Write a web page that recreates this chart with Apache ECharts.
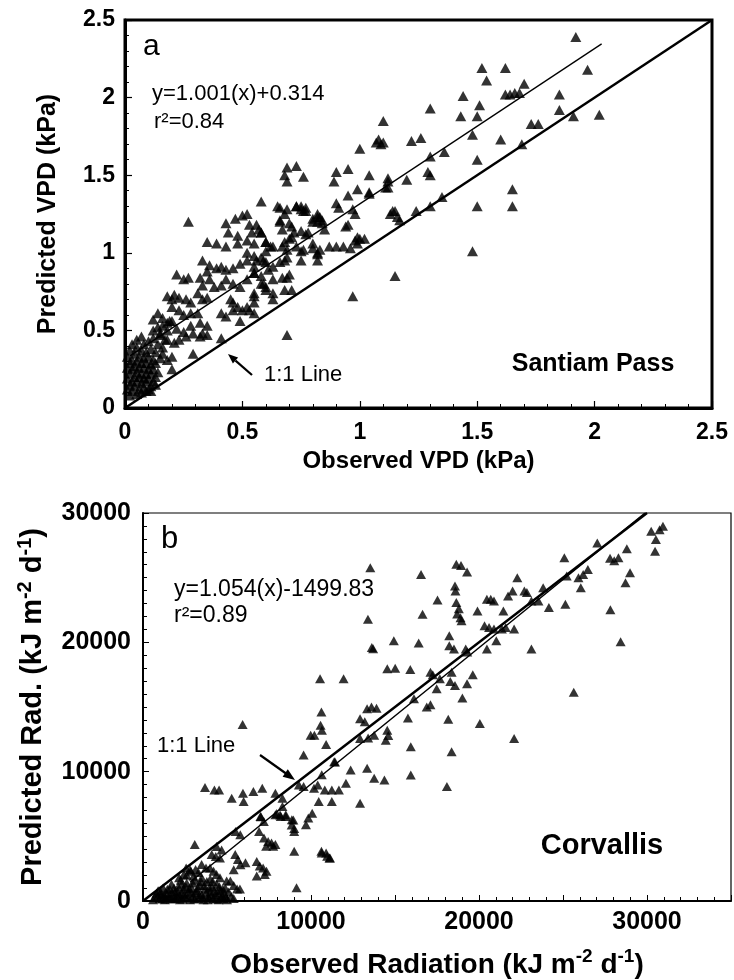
<!DOCTYPE html>
<html>
<head>
<meta charset="utf-8">
<script src="https://cdn.jsdelivr.net/npm/echarts@6/dist/echarts.min.js"></script>
<style>
  html, body { margin: 0; padding: 0; background: #fff; }
  #chart { width: 734px; height: 980px; }
</style>
</head>
<body>
<div id="chart"></div>
<script>
var FONT = "'Liberation Sans', Arial, sans-serif";

// panel a: Santiam Pass, observed vs predicted VPD (kPa)
var vpdTicks = [0, 0.5, 1, 1.5, 2, 2.5];
var santiamPts = [
  [1.92,2.39],[1.52,2.19],[1.62,2.19],[1.54,2.11],[1.70,2.09],[1.97,2.18],
  [1.44,2.01],[1.62,2.02],[1.64,2.02],[1.66,2.03],[1.68,2.03],[1.85,2.02],
  [1.30,1.93],[1.51,1.95],[1.43,1.88],[1.50,1.88],[1.85,1.92],[1.91,1.88],[2.02,1.89],
  [1.10,1.85],[1.73,1.83],[1.76,1.83],[1.48,1.76],[1.60,1.73],[1.69,1.70],
  [1.07,1.71],[1.08,1.73],[1.09,1.70],[1.10,1.71],[1.22,1.72],[1.26,1.74],
  [1.00,1.67],[1.36,1.65],[1.30,1.62],[1.50,1.60],
  [0.69,1.55],[0.68,1.50],[0.69,1.46],[0.73,1.56],[0.76,1.49],
  [0.90,1.52],[0.89,1.46],[0.95,1.54],[1.04,1.50],[1.12,1.48],[1.12,1.46],[1.11,1.42],
  [1.29,1.52],[1.30,1.50],[1.20,1.47],[0.99,1.41],[1.04,1.39],[0.95,1.37],
  [1.35,1.36],[1.30,1.30],[1.24,1.27],[1.65,1.41],[1.65,1.30],[1.50,1.30],
  [0.58,1.33],[0.73,1.30],[0.75,1.30],[0.77,1.29],[0.66,1.29],
  [0.83,1.23],[0.84,1.21],[0.82,1.25],[0.90,1.32],[0.91,1.29],[0.97,1.28],[0.98,1.25],[0.95,1.18],
  [1.04,1.38],[1.12,1.42],[0.94,1.17],
  [1.13,1.25],[1.15,1.27],[1.16,1.23],[1.17,1.21],[1.14,1.27],
  [0.98,1.08],[0.99,1.10],[1.00,1.09],[1.02,1.09],[0.99,1.06],
  [0.87,1.04],[0.90,1.04],[0.93,1.04],[0.96,1.03],
  [1.48,1.01],[1.15,0.85],[0.97,0.72],[0.69,0.47],[0.27,1.20],
  [0.65,1.30],[0.75,1.28],[0.77,1.27],[0.80,1.22],[0.82,1.20],
  [0.52,1.25],[0.50,1.24],[0.47,1.22],[0.43,1.19],[0.53,1.18],[0.57,1.15],[0.54,1.13],[0.58,1.13],
  [0.66,1.21],[0.67,1.15],[0.71,1.17],[0.75,1.14],[0.77,1.12],
  [0.44,1.13],[0.48,1.11],[0.52,1.08],[0.35,1.07],[0.39,1.06],[0.43,1.04],[0.48,1.06],[0.52,1.00],
  [0.55,1.06],[0.60,1.07],[0.62,1.04],[0.67,1.04],[0.70,1.09],[0.73,1.04],[0.76,1.02],[0.80,1.06],
  [0.83,1.02],[0.82,0.99],
  [0.33,0.95],[0.36,0.92],[0.39,0.90],[0.41,0.91],[0.43,0.89],[0.46,0.90],[0.49,0.93],[0.52,0.95],
  [0.55,0.98],[0.58,0.97],[0.60,0.94],[0.63,0.91],[0.66,0.94],[0.69,0.97],[0.70,0.86],[0.67,0.84],
  [0.63,0.83],[0.60,0.78],[0.58,0.80],[0.55,0.87],[0.52,0.83],[0.49,0.78],[0.46,0.80],[0.43,0.83],
  [0.41,0.79],[0.38,0.78],
  [0.22,0.86],[0.25,0.83],[0.27,0.84],[0.32,0.84],[0.35,0.88],[0.36,0.83],[0.33,0.79],[0.31,0.74],
  [0.33,0.70],[0.35,0.71],[0.18,0.72],[0.20,0.70],[0.21,0.73],[0.23,0.71],[0.26,0.70],[0.28,0.68],
  [0.20,0.65],[0.23,0.63],[0.25,0.60],[0.28,0.61],[0.31,0.61],[0.14,0.61],[0.12,0.57],[0.16,0.53],
  [0.18,0.55],[0.20,0.56],[0.22,0.51],[0.25,0.49],[0.28,0.53],[0.32,0.55],[0.35,0.53],[0.33,0.48],
  [0.45,0.70],[0.46,0.68],[0.48,0.65],[0.50,0.63],[0.52,0.65],[0.55,0.72],[0.53,0.63],[0.55,0.61],
  [0.41,0.61],[0.43,0.59],[0.46,0.63],[0.49,0.56],
  [0.12,0.50],[0.15,0.48],[0.18,0.44],[0.21,0.42],[0.23,0.44],[0.26,0.46],[0.29,0.48],[0.32,0.46],
  [0.35,0.47],[0.41,0.45],[0.29,0.35],[0.16,0.35],[0.18,0.31],[0.20,0.33],[0.20,0.25],
  [0.56,1.18],[0.58,1.13],[0.60,1.07],[0.63,1.04],[0.60,1.01],[0.59,0.95],[0.61,0.89],
  [0.68,1.07],[0.69,1.02],[0.68,0.95],[0.75,1.01],[0.75,0.95],[0.80,1.03],[0.82,1.00],[0.82,0.95],
  [0.56,0.95],[0.55,0.91],[0.55,0.87],[0.58,0.85],[0.59,0.80],[0.60,0.76],[0.63,0.74],[0.63,0.70],
  [0.55,0.74],[0.55,0.68],[0.69,0.84],[0.68,0.76],[0.71,0.76],
  [0.66,1.20],[0.70,1.19],[0.72,1.13],[0.71,1.10],[0.80,1.20],[0.82,1.23],[0.84,1.19],[0.85,1.15],
  [0.78,1.13],[0.68,1.25],[0.69,1.28],[0.73,1.30],[0.76,1.27],
  [0.01,0.12],[0.01,0.19],[0.01,0.26],[0.01,0.33],[0.02,0.08],[0.02,0.15],[0.02,0.22],[0.02,0.29],
  [0.02,0.37],[0.03,0.11],[0.03,0.17],[0.03,0.25],[0.03,0.31],[0.03,0.41],[0.04,0.14],[0.04,0.20],
  [0.04,0.27],[0.04,0.35],[0.05,0.09],[0.05,0.17],[0.05,0.23],[0.05,0.30],[0.05,0.39],[0.05,0.44],
  [0.06,0.12],[0.06,0.20],[0.06,0.26],[0.06,0.33],[0.07,0.10],[0.07,0.16],[0.07,0.22],[0.07,0.29],
  [0.07,0.37],[0.07,0.46],[0.08,0.13],[0.08,0.19],[0.08,0.26],[0.08,0.32],[0.08,0.41],[0.09,0.11],
  [0.09,0.17],[0.09,0.22],[0.09,0.29],[0.09,0.36],[0.10,0.12],[0.10,0.19],[0.10,0.25],[0.10,0.33],
  [0.10,0.43],[0.11,0.14],[0.11,0.22],[0.11,0.28],[0.11,0.38],[0.12,0.17],[0.12,0.25],[0.12,0.31],
  [0.12,0.45],[0.13,0.20],[0.13,0.29],[0.13,0.36],[0.14,0.23],[0.14,0.41],[0.15,0.32],[0.15,0.47],
  [0.16,0.39],[0.17,0.44],[0.18,0.50],[0.19,0.56],[0.14,0.52],[0.16,0.58],[0.13,0.15],[0.11,0.11]
];
var santiamFit = [[0.02, 0.334], [2.03, 2.346]];
var santiamOneToOne = [[0, 0], [2.5, 2.5]];

// panel b: Corvallis, observed vs predicted radiation (kJ m-2 d-1)
var radXTicks = [0, 10000, 20000, 30000];
var corvallisPts = [
  [30950,28970],[30750,28700],[30250,28590],[30530,27950],[30480,27050],[27040,27690],[28800,27230],
  [25080,26540],[27800,26500],[28050,26300],[28300,26540],[28990,25380],[28720,24610],[26480,25640],
  [26200,25250],[25920,25000],[26060,24230],[25220,25130],[27820,22510],[28430,20050],[25640,16150],
  [13530,25770],[16550,25250],[18650,26030],[18930,25950],[19290,25430],[18570,24360],[18600,23970],
  [17530,23280],[18650,23080],[18800,22600],[18700,22200],[18900,21900],[18960,21670],[16640,22180],
  [13390,21790],[13620,19610],[13700,19500],[14930,20130],[16410,19950],[18230,20510],[18230,19740],
  [18510,19490],[19210,19490],[19300,19250],[19910,22430],[20470,23330],[20700,23330],[20890,23200],
  [21730,23590],[22000,23970],[22280,25000],[22700,23970],[22850,23850],[23120,23200],[23540,23200],
  [23820,24230],[24160,22690],[25140,22950],[21450,22430],[20330,21280],[20600,21150],[20890,21030],
  [21360,21030],[21590,21150],[22090,21030],[20470,19490],[21030,20130],[23120,19490],
  [14540,17950],[15010,18000],[15910,17900],[17110,17690],[17250,17490],[18370,17690],[17670,17180],
  [18290,16970],[18570,16670],[19630,17490],[19290,16790],[10540,17180],[11940,17180],[17480,16410],
  [16130,15640],[17110,15180],[16890,15000],[19010,15690],
  [13340,14870],[13600,15000],[13900,14900],[12920,14100],[13200,13850],[10620,14610],[15770,14150],
  [20050,13720],[18170,14050],[10570,13590],[10650,13200],[9980,12820],[10200,12820],[10900,12100],
  [12920,12560],[13400,12600],[13760,12820],[14540,13210],[14600,12800],[14450,12430],[22090,12560],
  [15940,11920],[18370,11540],[11380,10770],[9560,11280],[5930,13640],[10640,9770],[11430,10740],
  [3690,8770],[4250,8590],[4530,8590],[5280,7950],[5990,7700],[5950,8330],[6570,8460],[7100,8720],
  [7880,8330],[8300,7950],[9280,8970],[9560,8850],[10180,8720],[10400,8970],[10820,8590],[11240,8590],
  [11660,8590],[12080,9100],[12360,10130],[13340,10260],[13760,9490],[14370,9360],[15940,9740],
  [18090,8850],[10460,7690],[11240,7690],[12920,7560],[8300,7310],[8500,6670],[7880,6670],[8200,6540],
  [8500,6540],[8860,6280],[9000,5600],[9000,5380],[9840,6410],[10070,6790],[9700,5900],[6990,6540],
  [7190,6150],[6910,5380],[7200,4870],[7450,4600],[7650,4480],[7880,4360],[7330,4230],[7750,4230],
  [9000,3850],[10620,3850],[10960,3460],[11100,3330],[5510,5380],[5790,5130],[3080,4360],[9140,1030],
  [7960,6770],[8160,6640],[7020,6510],[8950,6260],[8850,5870],
  [4380,4210],[4680,3950],[4090,3590],[4330,3450],[4580,3320],[5490,3590],[5650,3200],[5800,2800],
  [6100,2950],[5400,2410],[6770,3050],[6950,2700],[7150,2550],[7350,2300],[7250,2050],[6770,1930],
  [10640,3720],[10900,3720],[11130,3330],[3490,2820],[3750,2560],[3990,2560],[2800,2410],[3000,1920],
  [4380,2050],[4580,1790],[4980,1540],[5200,1540],[5400,1200],[5600,920],[5770,920],[2570,2560],
  [2850,2300],[3130,2430],[2150,1790],[2430,2050],
  [700,300],[900,800],[1000,200],[1100,500],[1200,1000],[1300,100],[1400,600],[1500,300],[1600,900],
  [1700,1300],[1800,200],[1900,700],[2000,400],[2100,1100],[2200,100],[2300,600],[2400,900],
  [2500,300],[2600,1400],[2700,700],[2800,100],[2900,1000],[3000,400],[3100,1600],[3200,800],
  [3300,200],[3400,1200],[3500,500],[3600,100],[3700,900],[3800,1500],[3900,300],[4000,700],
  [4100,1100],[4200,200],[4300,500],[4400,1300],[4500,100],[4600,800],[4700,400],[4800,200],
  [4900,1000],[5000,100],[800,600],[1600,400],[2300,1300],[3500,1800],[4000,1700],
  [600,100],[850,350],[1050,700],[1250,450],[1350,250],[1450,900],[1650,150],[1750,600],[1850,1000],
  [1950,200],[2050,750],[2150,450],[2250,1600],[2350,150],[2450,500],[2550,1100],[2650,250],
  [2750,950],[2850,600],[2950,1400],[3050,150],[3150,650],[3250,1000],[3350,450],[3450,1500],
  [3550,250],[3650,1200],[3750,600],[3850,100],[3950,1000],[4050,400],[4150,1500],[4250,800],
  [4350,150],[4450,650],[4550,1100],[4650,250],[4750,900],[4850,550],[4950,300],[5100,700],
  [5250,350],[5400,200],[1150,150],[2600,2000],[3300,2200],[4200,2300]
];
var corvallisFit = [[2800, 1450], [29880, 30000]];
var corvallisOneToOne = [[0, 0], [30000, 30000]];

var myChart = echarts.init(document.getElementById("chart"));

function txt(x, y, text, size, bold, align) {
  return {
    type: "text", x: x, y: y, z: 100,
    style: {
      text: text, fill: "#000", font: (bold ? "bold " : "") + size + "px " + FONT,
      align: align || "left", verticalAlign: "middle"
    }
  };
}

var option = {
  animation: false,
  backgroundColor: "#fff",
  grid: [
    { left: 125, top: 20, width: 587, height: 388, show: true, borderColor: "#000", borderWidth: 3, backgroundColor: "transparent" },
    { left: 143, top: 513, width: 588, height: 390, show: true, borderColor: "#000", borderWidth: 1.2, backgroundColor: "transparent" }
  ],
  xAxis: [
    {
      gridIndex: 0, type: "value", min: 0, max: 2.5, interval: 0.5,
      name: "Observed VPD (kPa)", nameLocation: "middle", nameGap: 41,
      nameTextStyle: { fontSize: 24, fontWeight: "bold", fontFamily: FONT, color: "#000" },
      axisLine: { lineStyle: { color: "#000", width: 3 } },
      axisTick: { inside: true, length: 7, lineStyle: { color: "#000", width: 1.2 } },
      minorTick: { show: true, splitNumber: 5, length: 4, lineStyle: { color: "#000", width: 1 } },
      splitLine: { show: false },
      axisLabel: {
        margin: 13, fontSize: 23, fontWeight: "bold", fontFamily: FONT, color: "#000",
        formatter: function (v) { return vpdTicks.indexOf(v) >= 0 ? String(v) : ""; }
      }
    },
    {
      gridIndex: 1, type: "value", min: 0, max: 35000, interval: 5000,
      name: "{t|Observed Radiation (kJ m}{s|-2}{t| d}{s|-1}{t|)}", nameLocation: "middle", nameGap: 46,
      nameTextStyle: {
        color: "#000",
        rich: {
          t: { fontSize: 28, fontWeight: "bold", fontFamily: FONT, color: "#000", lineHeight: 32, verticalAlign: "bottom" },
          s: { fontSize: 19, fontWeight: "bold", fontFamily: FONT, color: "#000", lineHeight: 32, verticalAlign: "top" }
        }
      },
      axisLine: { lineStyle: { color: "#000", width: 2 } },
      axisTick: { inside: true, length: 6, lineStyle: { color: "#000", width: 1 } },
      minorTick: { show: true, splitNumber: 5, length: 4, lineStyle: { color: "#000", width: 1 } },
      splitLine: { show: false },
      axisLabel: {
        margin: 9, fontSize: 25, fontWeight: "bold", fontFamily: FONT, color: "#000",
        formatter: function (v) { return radXTicks.indexOf(v) >= 0 ? String(v) : ""; }
      }
    }
  ],
  yAxis: [
    {
      gridIndex: 0, type: "value", min: 0, max: 2.5, interval: 0.5,
      name: "Predicted VPD (kPa)", nameLocation: "middle", nameGap: 64,
      nameTextStyle: { fontSize: 25, fontWeight: "bold", fontFamily: FONT, color: "#000" },
      axisLine: { lineStyle: { color: "#000", width: 3 } },
      axisTick: { inside: true, length: 7, lineStyle: { color: "#000", width: 1.2 } },
      minorTick: { show: true, splitNumber: 5, length: 4, lineStyle: { color: "#000", width: 1 } },
      splitLine: { show: false },
      axisLabel: {
        margin: 10, fontSize: 23, fontWeight: "bold", fontFamily: FONT, color: "#000",
        formatter: function (v) { return vpdTicks.indexOf(v) >= 0 ? String(v) : ""; }
      }
    },
    {
      gridIndex: 1, type: "value", min: 0, max: 30000, interval: 10000,
      name: "{t|Predicted Rad. (kJ m}{s|-2}{t| d}{s|-1}{t|)}", nameLocation: "middle", nameGap: 96,
      nameTextStyle: {
        color: "#000",
        rich: {
          t: { fontSize: 29, fontWeight: "bold", fontFamily: FONT, color: "#000", lineHeight: 32, verticalAlign: "bottom" },
          s: { fontSize: 20, fontWeight: "bold", fontFamily: FONT, color: "#000", lineHeight: 32, verticalAlign: "top" }
        }
      },
      axisLine: { lineStyle: { color: "#000", width: 2 } },
      axisTick: { inside: true, length: 6, lineStyle: { color: "#000", width: 1 } },
      minorTick: { show: true, splitNumber: 10, length: 4, lineStyle: { color: "#000", width: 1 } },
      splitLine: { show: false },
      axisLabel: {
        margin: 12, fontSize: 25, fontWeight: "bold", fontFamily: FONT, color: "#000",
        formatter: function (v) { return String(v); }
      }
    }
  ],
  series: [
    {
      type: "line", xAxisIndex: 0, yAxisIndex: 0, data: santiamOneToOne, symbol: "none",
      lineStyle: { color: "#000", width: 2.5 }, z: 3
    },
    {
      type: "line", xAxisIndex: 0, yAxisIndex: 0, data: santiamFit, symbol: "none",
      lineStyle: { color: "#000", width: 1.3 }, z: 3
    },
    {
      type: "scatter", xAxisIndex: 0, yAxisIndex: 0, data: santiamPts,
      symbol: "triangle", symbolSize: [11, 10], itemStyle: { color: "#000" }, z: 4
    },
    {
      type: "line", xAxisIndex: 1, yAxisIndex: 1, data: corvallisOneToOne, symbol: "none",
      lineStyle: { color: "#000", width: 2.5 }, z: 3
    },
    {
      type: "line", xAxisIndex: 1, yAxisIndex: 1, data: corvallisFit, symbol: "none",
      lineStyle: { color: "#000", width: 1.5 }, z: 3
    },
    {
      type: "scatter", xAxisIndex: 1, yAxisIndex: 1, data: corvallisPts,
      symbol: "triangle", symbolSize: [10, 9], itemStyle: { color: "#000" }, z: 4
    }
  ],
  graphic: [
    txt(143, 47, "a", 30, false),
    txt(152, 94, "y=1.001(x)+0.314", 22, false),
    txt(154, 122, "r\u00b2=0.84", 22, false),
    txt(264, 375, "1:1 Line", 22, false),
    txt(593, 364, "Santiam Pass", 25, true, "center"),
    { type: "line", z: 100, shape: { x1: 252, y1: 375, x2: 235.5, y2: 360.6 }, style: { stroke: "#000", lineWidth: 2.2 } },
    { type: "polygon", z: 100, shape: { points: [[228, 354], [238.1, 357.6], [232.9, 363.6]] }, style: { fill: "#000" } },

    txt(161, 539, "b", 31, false),
    txt(174, 590, "y=1.054(x)-1499.83", 23, false),
    txt(174, 616, "r\u00b2=0.89", 23, false),
    txt(157, 746, "1:1 Line", 22, false),
    txt(602, 846, "Corvallis", 29, true, "center"),
    { type: "line", z: 100, shape: { x1: 260, y1: 755, x2: 286, y2: 773.5 }, style: { stroke: "#000", lineWidth: 2.2 } },
    { type: "polygon", z: 100, shape: { points: [[295, 780], [282.6, 776.7], [287.8, 769.3]] }, style: { fill: "#000" } }
  ]
};

myChart.setOption(option);
</script>
</body>
</html>
